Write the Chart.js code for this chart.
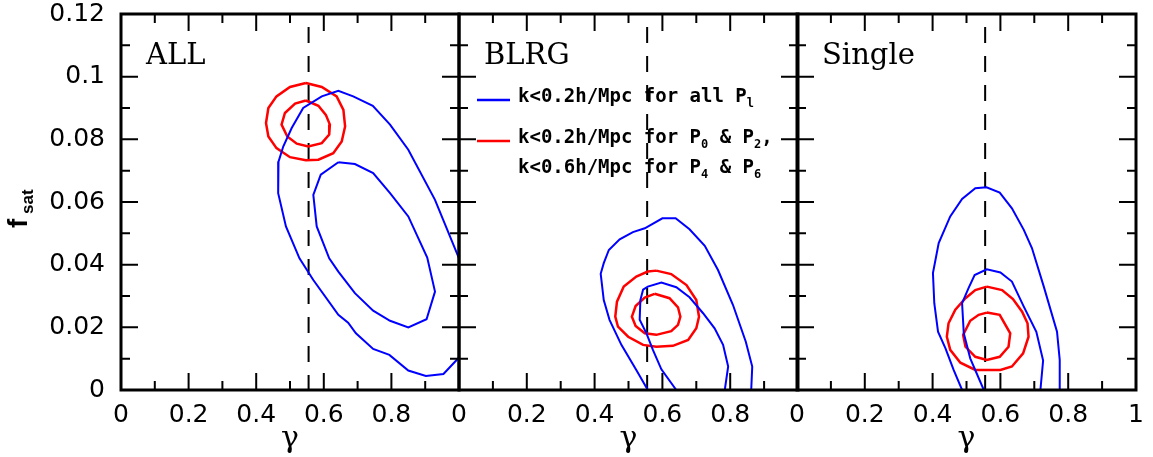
<!DOCTYPE html>
<html>
<head>
<meta charset="utf-8">
<script src="https://cdn.jsdelivr.net/npm/chart.js@4.4.0/dist/chart.umd.min.js"></script>
<style>
html, body { margin: 0; padding: 0; background: #fff; }
#wrap { position: relative; width: 1153px; height: 457px; }
#wrap canvas { position: absolute; left: 0; top: 0; }
</style>
</head>
<body>
<div id="wrap">
  <canvas id="panel-all" width="1153" height="457"></canvas>
  <canvas id="panel-blrg" width="1153" height="457"></canvas>
  <canvas id="panel-single" width="1153" height="457"></canvas>
</div>
<script>
// axis ticks and the fiducial gamma (dashed line)
const xTicks = [0, 0.2, 0.4, 0.6, 0.8, 1];
const yTicks = [0, 0.02, 0.04, 0.06, 0.08, 0.1, 0.12];
const gammaFid = 0.555;

// contours, [gamma, f_sat]
// ALL
const allBlueOuter = [[1.0,0.042],[0.929,0.0607],[0.850,0.0767],[0.796,0.0847],[0.745,0.0907],[0.687,0.0937],[0.643,0.0955],[0.594,0.0937],[0.539,0.090],[0.505,0.0836],[0.480,0.0777],[0.466,0.0729],[0.465,0.0628],[0.488,0.0522],[0.528,0.042],[0.569,0.0351],[0.643,0.024],[0.672,0.0215],[0.695,0.0181],[0.746,0.0131],[0.794,0.0112],[0.850,0.0062],[0.902,0.0045],[0.954,0.0051],[1.0,0.0104]];
const allBlueInner = [[0.643,0.0727],[0.692,0.0721],[0.746,0.0692],[0.796,0.0628],[0.850,0.0554],[0.906,0.0423],[0.929,0.0314],[0.904,0.0226],[0.850,0.020],[0.796,0.0221],[0.746,0.0253],[0.692,0.0309],[0.643,0.0378],[0.616,0.042],[0.579,0.0522],[0.569,0.0623],[0.591,0.0687],[0.643,0.0727]];
const allRedOuter = [[0.547,0.098],[0.594,0.0967],[0.638,0.0937],[0.658,0.0894],[0.663,0.0841],[0.653,0.0793],[0.628,0.0756],[0.584,0.0735],[0.547,0.0733],[0.500,0.0743],[0.460,0.0772],[0.436,0.0809],[0.429,0.0852],[0.436,0.090],[0.460,0.0937],[0.500,0.0967],[0.547,0.098]];
const allRedInner = [[0.547,0.0924],[0.584,0.0907],[0.606,0.0878],[0.618,0.0847],[0.616,0.0815],[0.594,0.0788],[0.554,0.0777],[0.520,0.0786],[0.492,0.0809],[0.475,0.0847],[0.485,0.0884],[0.515,0.0914],[0.547,0.0924]];

// BLRG
const blrgBlueOuter = [[0.557,0],[0.523,0.0064],[0.479,0.0144],[0.444,0.0224],[0.427,0.0287],[0.418,0.0371],[0.427,0.0405],[0.442,0.0447],[0.474,0.0481],[0.513,0.0504],[0.548,0.0516],[0.600,0.0548],[0.639,0.0548],[0.680,0.0513],[0.725,0.046],[0.764,0.0383],[0.808,0.0272],[0.846,0.0154],[0.865,0.0075],[0.862,0]];
const blrgBlueInner = [[0.641,0],[0.597,0.0066],[0.572,0.0128],[0.553,0.0181],[0.533,0.0224],[0.535,0.0287],[0.543,0.032],[0.557,0.033],[0.597,0.0343],[0.641,0.0328],[0.680,0.0296],[0.720,0.0245],[0.754,0.0197],[0.779,0.0144],[0.794,0.0075],[0.784,0]];
const blrgRedOuter = [[0.582,0.0381],[0.626,0.037],[0.671,0.0335],[0.700,0.0287],[0.708,0.0234],[0.700,0.0197],[0.676,0.016],[0.631,0.0141],[0.582,0.0138],[0.543,0.0144],[0.499,0.017],[0.469,0.0202],[0.461,0.0234],[0.466,0.0282],[0.486,0.033],[0.523,0.0362],[0.557,0.0378],[0.582,0.0381]];
const blrgRedInner = [[0.577,0.0307],[0.621,0.0293],[0.646,0.0264],[0.653,0.0234],[0.646,0.0208],[0.626,0.0188],[0.582,0.0176],[0.548,0.0181],[0.521,0.0204],[0.510,0.0234],[0.521,0.0268],[0.548,0.0295],[0.577,0.0307]];

// Single
const singleBlueOuter = [[0.487,0],[0.462,0.0064],[0.438,0.0133],[0.416,0.0186],[0.405,0.0277],[0.401,0.0373],[0.418,0.0469],[0.452,0.0554],[0.487,0.061],[0.526,0.0644],[0.559,0.0647],[0.598,0.063],[0.634,0.058],[0.669,0.0511],[0.693,0.0453],[0.728,0.033],[0.767,0.0186],[0.775,0.0096],[0.775,0]];
const singleBlueInner = [[0.551,0],[0.511,0.0101],[0.492,0.0181],[0.487,0.0277],[0.506,0.0325],[0.524,0.0367],[0.560,0.0385],[0.600,0.0375],[0.634,0.0346],[0.669,0.0266],[0.706,0.0186],[0.726,0.0094],[0.718,0]];
const singleRedOuter = [[0.560,0.033],[0.605,0.0319],[0.637,0.029],[0.664,0.025],[0.680,0.0213],[0.683,0.017],[0.667,0.0117],[0.634,0.0075],[0.600,0.0064],[0.526,0.0064],[0.482,0.0087],[0.452,0.0128],[0.442,0.017],[0.447,0.0213],[0.467,0.0256],[0.497,0.0293],[0.526,0.0319],[0.560,0.033]];
const singleRedInner = [[0.560,0.0247],[0.598,0.024],[0.629,0.0181],[0.624,0.0138],[0.598,0.0106],[0.560,0.0096],[0.526,0.0106],[0.497,0.0138],[0.490,0.0176],[0.511,0.0221],[0.536,0.024],[0.560,0.0247]];

const BLUE = '#0000ff';
const RED = '#ff0000';
const NUM_FONT = '"DejaVu Sans", sans-serif';

let toXY = (pts) => pts.map(([x, y]) => ({x, y}));

let contour = (pts, color) => ({
    data: toXY(pts),
    borderColor: color,
    borderWidth: color === RED ? 2.5 : 2,
    showLine: true,
    pointRadius: 0,
    tension: 0,
    fill: false,
});

// draw text made of runs, some of them as subscripts
let drawRuns = (ctx, x, y, runs, size, family) => {
    for (const [text, sub] of runs) {
        ctx.font = 'bold ' + (sub ? Math.round(size * 0.65) : size) + 'px ' + family;
        ctx.fillText(text, x, sub ? y + size * 0.28 : y);
        x += ctx.measureText(text).width;
    }
};

// frame with inward ticks on all four sides, panel name, legend, y title
const panelDecor = {
    id: 'panelDecor',
    afterDatasetsDraw(chart, args, opts) {
        const {ctx, chartArea: a, scales: {x, y}} = chart;
        ctx.save();
        ctx.strokeStyle = '#000';
        ctx.lineWidth = 2;
        ctx.beginPath();
        for (let i = 1; i < 10; i++) {
            const px = x.getPixelForValue(i / 10), len = i % 2 ? 9 : 17;
            ctx.moveTo(px, a.bottom); ctx.lineTo(px, a.bottom - len);
            ctx.moveTo(px, a.top); ctx.lineTo(px, a.top + len);
        }
        for (let i = 1; i < 12; i++) {
            const py = y.getPixelForValue(i / 100), len = i % 2 ? 9 : 17;
            ctx.moveTo(a.left, py); ctx.lineTo(a.left + len, py);
            ctx.moveTo(a.right, py); ctx.lineTo(a.right - len, py);
        }
        ctx.stroke();
        ctx.lineWidth = 3;
        ctx.strokeRect(a.left, a.top, a.right - a.left, a.bottom - a.top);

        // panel name
        ctx.fillStyle = '#000';
        ctx.textBaseline = 'alphabetic';
        ctx.textAlign = 'left';
        ctx.font = '29px "DejaVu Serif", serif';
        ctx.fillText(opts.name, a.left + 25, 64);

        if (opts.legend) {
            const fam = '"DejaVu Sans Mono", monospace';
            const lx = a.left + 18, tx = a.left + 59;
            ctx.lineWidth = 2.5;
            ctx.strokeStyle = BLUE;
            ctx.beginPath(); ctx.moveTo(lx, 100); ctx.lineTo(lx + 33, 100); ctx.stroke();
            ctx.strokeStyle = RED;
            ctx.beginPath(); ctx.moveTo(lx, 141); ctx.lineTo(lx + 33, 141); ctx.stroke();
            drawRuns(ctx, tx, 102, [['k<0.2h/Mpc for all P'], ['l', true]], 19, fam);
            drawRuns(ctx, tx, 143, [['k<0.2h/Mpc for P'], ['0', true], [' & P'], ['2', true], [',']], 19, fam);
            drawRuns(ctx, tx, 173, [['k<0.6h/Mpc for P'], ['4', true], [' & P'], ['6', true]], 19, fam);
        }

        if (opts.yTitle) {
            ctx.translate(30, 228);
            ctx.rotate(-Math.PI / 2);
            ctx.font = 'bold 28px "Liberation Sans", sans-serif';
            ctx.fillText('f', 0, -3);
            ctx.font = 'bold 17px "Liberation Sans", sans-serif';
            ctx.fillText('sat', 14, 3);
        }
        ctx.restore();
    }
};

let makePanel = (id, name, contours, padLeft, padRight, first, last) => {
    const datasets = contours.map(([pts, color]) => contour(pts, color));
    datasets.push({
        data: [{x: gammaFid, y: 0.12}, {x: gammaFid, y: 0}],
        borderColor: '#000',
        borderWidth: 2,
        borderDash: [16, 13],
        borderDashOffset: 16,
        showLine: true,
        pointRadius: 0,
    });
    return new Chart(document.getElementById(id), {
        type: 'scatter',
        data: {datasets},
        plugins: [panelDecor],
        options: {
            responsive: false,
            animation: false,
            devicePixelRatio: 1,
            layout: {autoPadding: false, padding: {left: padLeft, right: padRight, top: 14, bottom: 0}},
            plugins: {
                legend: {display: false},
                tooltip: {enabled: false},
                panelDecor: {name, legend: name === 'BLRG', yTitle: first},
            },
            scales: {
                x: {
                    type: 'linear',
                    min: 0,
                    max: 1,
                    afterBuildTicks: (s) => { s.ticks = xTicks.map(v => ({value: v})); },
                    afterFit: (s) => { s.height = 67; s.paddingLeft = 0; s.paddingRight = 0; },
                    grid: {display: false, drawTicks: false},
                    border: {display: false},
                    ticks: {
                        autoSkip: false,
                        maxRotation: 0,
                        padding: 10,
                        color: '#000',
                        font: {family: NUM_FONT, size: 25},
                        callback: (v) => (v === 1 && !last) ? '' : String(v),
                    },
                    title: {
                        display: true,
                        text: 'γ',
                        color: '#000',
                        font: {family: '"DejaVu Serif", serif', size: 30},
                        padding: {top: 0, bottom: 0},
                    },
                },
                y: {
                    type: 'linear',
                    min: 0,
                    max: 0.12,
                    display: first,
                    afterBuildTicks: (s) => { s.ticks = yTicks.map(v => ({value: v})); },
                    afterFit: (s) => { s.width = first ? 121 : 0; s.paddingTop = 0; s.paddingBottom = 0; },
                    grid: {display: false, drawTicks: false},
                    border: {display: false},
                    ticks: {
                        padding: 16,
                        color: '#000',
                        font: {family: NUM_FONT, size: 25},
                        callback: (v) => String(v),
                    },
                },
            },
        },
    });
};

makePanel('panel-all', 'ALL',
    [[allBlueOuter, BLUE], [allBlueInner, BLUE], [allRedOuter, RED], [allRedInner, RED]],
    0, 1153 - 459, true, false);
makePanel('panel-blrg', 'BLRG',
    [[blrgBlueOuter, BLUE], [blrgBlueInner, BLUE], [blrgRedOuter, RED], [blrgRedInner, RED]],
    459, 1153 - 798, false, false);
makePanel('panel-single', 'Single',
    [[singleBlueOuter, BLUE], [singleBlueInner, BLUE], [singleRedOuter, RED], [singleRedInner, RED]],
    797, 1153 - 1136, false, true);
</script>
</body>
</html>
